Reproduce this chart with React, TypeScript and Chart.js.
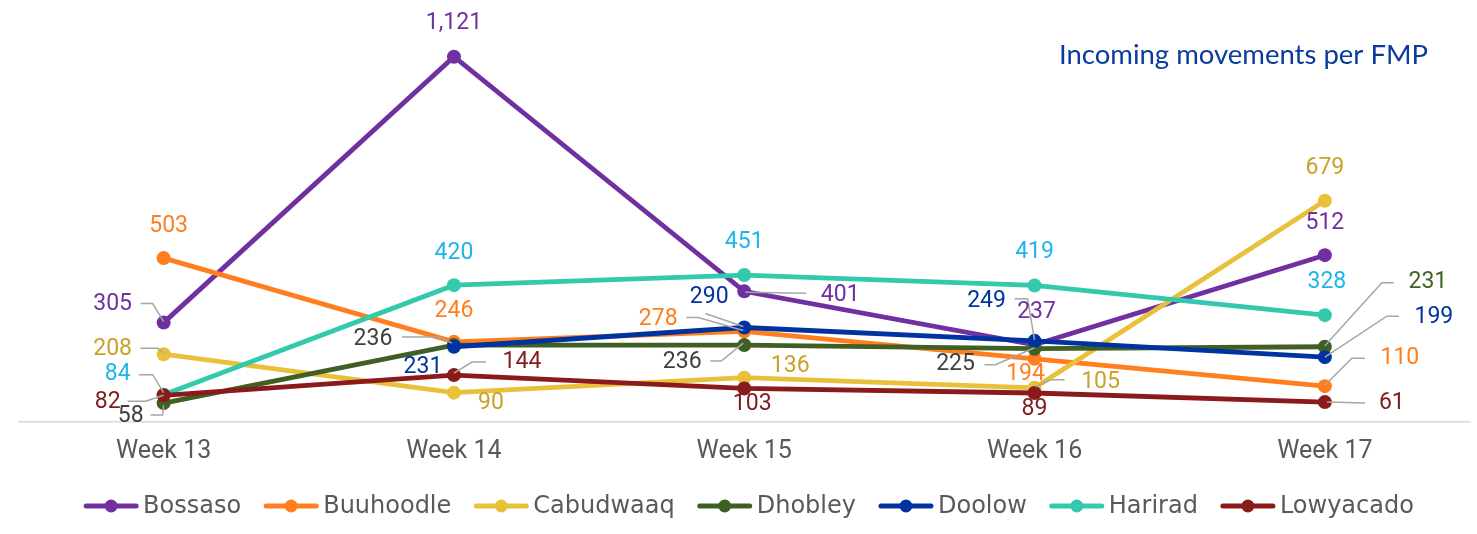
import React, { useEffect, useRef } from "react";
import { Chart, registerables } from "chart.js";

Chart.register(...registerables);

// ---------- data ----------
const categories = ["Week 13", "Week 14", "Week 15", "Week 16", "Week 17"];
const seriesNames = ["Bossaso", "Buuhoodle", "Cabudwaaq", "Dhobley", "Doolow", "Harirad", "Lowyacado"];
const bossaso = [305, 1121, 401, 237, 512];
const buuhoodle = [503, 246, 278, 194, 110];
const cabudwaaq = [208, 90, 136, 105, 679];
const dhobley = [58, 236, 236, 225, 231];
const doolow = [null, 231, 290, 249, 199];
const harirad = [84, 420, 451, 419, 328];
const lowyacado = [82, 144, 103, 89, 61];
const chartTitle = "Incoming movements per FMP";

// ---------- styles ----------
const lineColors = ["#7030A0", "#FF7F1E", "#E9C03A", "#3F5F23", "#0033A0", "#33C9AC", "#8B1A1A"];
const labelColors = [
  ["#7030A0"],
  ["#FF7F1E"],
  ["#C9A227"],
  ["#404040", "#404040", "#404040", "#404040", "#3F6321"],
  ["#0033A0"],
  ["#1FB4EA"],
  ["#7F1D1D"],
];

// label placement: [dx, dy, leader polyline (relative to the point)]
type Lbl = [number, number, number[][]?];
const labelLayout: Lbl[][] = [
  // Bossaso
  [
    [-51, -18, [[-23, -19], [-11, -19], [0, -1]]],
    [0, -33],
    [96, 4, [[62, 2], [1, 1]]],
    [2, -33],
    [0, -32],
  ],
  // Buuhoodle
  [
    [5, -32],
    [0, -31],
    [-86, -12, [[-58, -14], [-46, -14], [-1, -1]]],
    [-9, 15],
    [75, -28, [[40, -28], [27, -28], [0, -1]]],
  ],
  // Cabudwaaq
  [
    [-51, -5, [[-23, -6], [-6, -6], [0, -1]]],
    [37, 11],
    [46, -11],
    [66, -6, [[30, -8], [16, -8], [1, -1]]],
    [0, -33],
  ],
  // Dhobley
  [
    [-33, 13, [[-13, 12], [-1, 12], [0, 2]]],
    [-81, -6, [[-52, -8], [-15, -8], [-2, -2]]],
    [-62, 17, [[-34, 16], [-23, 16], [-1, -2]]],
    [-79, 16, [[-50, 16], [-39, 16], [0, -1]]],
    [103, -64, [[69, -64], [57, -64], [0, -1]]],
  ],
  // Doolow
  [
    [0, 0],
    [-31, 21],
    [-35, -30, [[-39, -14], [-1, -1]]],
    [-48, -40, [[-20, -42], [-7, -42], [0, -1]]],
    [109, -40, [[74, -41], [62, -41], [0, 0]]],
  ],
  // Harirad
  [
    [-46, -20, [[-25, -20], [-11, -20], [0, -2]]],
    [0, -32],
    [0, -33],
    [0, -33],
    [2, -33],
  ],
  // Lowyacado
  [
    [-56, 7, [[-36, 6], [-18, 6], [0, 0]]],
    [68, -13, [[32, -13], [18, -13], [0, -2]]],
    [8, 16],
    [0, 16],
    [67, 1, [[40, 1], [2, 0]]],
  ],
];

const seriesValues = [bossaso, buuhoodle, cabudwaaq, dhobley, doolow, harirad, lowyacado];

const LABEL_FONT = "400 23px Roboto";
const LEGEND_FONT = "400 24px 'DejaVu Sans'";
const TITLE_FONT = "400 27.5px Lato";

const labelsPlugin = {
  id: "pointLabels",
  afterDatasetsDraw(chart: any) {
    const ctx = chart.ctx as CanvasRenderingContext2D;
    ctx.save();
    // leaders
    chart.data.datasets.forEach((ds: any, i: number) => {
      const meta = chart.getDatasetMeta(i);
      meta.data.forEach((pt: any, j: number) => {
        const v = ds.data[j];
        if (v == null) return;
        const l = labelLayout[i][j];
        if (!l || !l[2]) return;
        ctx.strokeStyle = "#A6A6A6";
        ctx.lineWidth = 1.5;
        ctx.beginPath();
        l[2].forEach((p, k) => {
          const px = pt.x + p[0];
          const py = pt.y + p[1];
          if (k === 0) ctx.moveTo(px, py);
          else ctx.lineTo(px, py);
        });
        ctx.stroke();
      });
    });
    // text
    ctx.font = LABEL_FONT;
    ctx.textAlign = "center";
    ctx.textBaseline = "middle";
    chart.data.datasets.forEach((ds: any, i: number) => {
      const meta = chart.getDatasetMeta(i);
      meta.data.forEach((pt: any, j: number) => {
        const v = ds.data[j];
        if (v == null) return;
        const l = labelLayout[i][j];
        const cols = labelColors[i];
        ctx.fillStyle = cols[j] || cols[0];
        ctx.fillText(Number(v).toLocaleString("en-US"), pt.x + l[0], pt.y + l[1]);
      });
    });
    ctx.restore();
  },
  afterDraw(chart: any) {
    const ctx = chart.ctx as CanvasRenderingContext2D;
    ctx.save();
    // title
    ctx.font = TITLE_FONT;
    ctx.fillStyle = "#0B3A9E";
    ctx.textAlign = "right";
    ctx.textBaseline = "alphabetic";
    ctx.fillText(chartTitle, chart.width - 49, 64);

    // legend
    ctx.font = LEGEND_FONT;
    const markerW = 56;
    const textGap = 4;
    const itemGap = 22;
    const widths = seriesNames.map((n) => ctx.measureText(n).width);
    const total =
      widths.reduce((a, w) => a + markerW + textGap + w, 0) + itemGap * (seriesNames.length - 1);
    let x = (chart.width - total) / 2 + 10;
    const y = 506;
    seriesNames.forEach((n, i) => {
      ctx.strokeStyle = lineColors[i];
      ctx.lineWidth = 5;
      ctx.lineCap = "round";
      ctx.beginPath();
      ctx.moveTo(x + 3, y);
      ctx.lineTo(x + markerW - 3, y);
      ctx.stroke();
      ctx.fillStyle = lineColors[i];
      ctx.beginPath();
      ctx.arc(x + markerW / 2, y, 6.5, 0, Math.PI * 2);
      ctx.fill();
      ctx.fillStyle = "#595959";
      ctx.textAlign = "left";
      ctx.textBaseline = "middle";
      ctx.fillText(n, x + markerW + textGap, y + 1);
      x += markerW + textGap + widths[i] + itemGap;
    });
    ctx.restore();
  },
};

export default function App() {
  const ref = useRef<HTMLCanvasElement | null>(null);
  useEffect(() => {
    if (!ref.current) return;
    const order = seriesNames.length - 1;
    const chart = new Chart(ref.current, {
      type: "line",
      data: {
        labels: categories,
        datasets: seriesNames.map((name, i) => ({
          label: name,
          data: seriesValues[i] as any,
          borderColor: lineColors[i],
          backgroundColor: lineColors[i],
          pointBackgroundColor: lineColors[i],
          pointBorderWidth: 0,
          pointRadius: 7,
          borderWidth: 4.8,
          tension: 0,
          order: order - i,
        })),
      },
      options: {
        responsive: false,
        animation: false,
        layout: { padding: { left: 18.5, right: 0, top: 31, bottom: 52 } },
        plugins: {
          legend: { display: false },
          tooltip: { enabled: false },
          title: { display: false },
        },
        scales: {
          x: {
            offset: true,
            grid: { display: false, drawTicks: false },
            border: { display: true, color: "#D9D9D9", width: 1.5 },
            ticks: {
              color: "#595959",
              font: { family: "Roboto", size: 25 },
              padding: 15,
            },
          },
          y: {
            display: false,
            min: 0,
            max: 1200,
          },
        },
      },
      plugins: [labelsPlugin],
    });
    return () => chart.destroy();
  }, []);
  return (
    <div style={{ position: "absolute", left: 0, top: 0, width: 1477, height: 534, background: "#fff" }}>
      <canvas ref={ref} width={1477} height={534} style={{ display: "block" }} />
    </div>
  );
}
